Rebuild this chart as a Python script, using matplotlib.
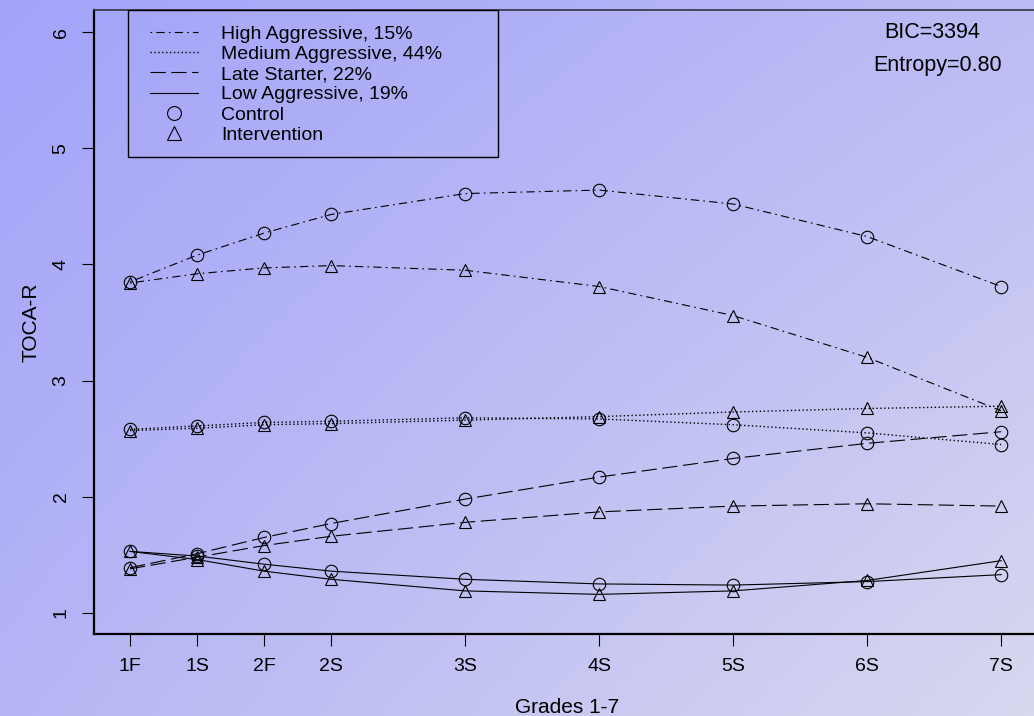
import numpy as np
import matplotlib.pyplot as plt
from matplotlib.lines import Line2D
from matplotlib.patches import Rectangle

plt.rcParams['font.family'] = ['Liberation Sans', 'DejaVu Sans']
plt.rcParams['lines.scale_dashes'] = False

# Grade occasions (fall/spring) and their spacing on the time axis
grades = ["1F", "1S", "2F", "2S", "3S", "4S", "5S", "6S", "7S"]
grade_pos = [0, 0.5, 1, 1.5, 2.5, 3.5, 4.5, 5.5, 6.5]

# Estimated TOCA-R trajectories per class, control vs intervention
high_ctrl = [3.85, 4.08, 4.27, 4.43, 4.61, 4.64, 4.52, 4.24, 3.81]
high_int = [3.84, 3.92, 3.97, 3.99, 3.95, 3.81, 3.56, 3.20, 2.74]
med_ctrl = [2.58, 2.61, 2.64, 2.65, 2.68, 2.67, 2.62, 2.55, 2.45]
med_int = [2.57, 2.59, 2.62, 2.63, 2.66, 2.69, 2.73, 2.76, 2.78]
late_ctrl = [1.39, 1.51, 1.65, 1.77, 1.98, 2.17, 2.33, 2.46, 2.56]
late_int = [1.38, 1.48, 1.58, 1.66, 1.78, 1.87, 1.92, 1.94, 1.92]
low_ctrl = [1.53, 1.49, 1.42, 1.36, 1.29, 1.25, 1.24, 1.27, 1.33]
low_int = [1.53, 1.46, 1.36, 1.29, 1.19, 1.16, 1.19, 1.28, 1.45]

class_labels = ["High Aggressive, 15%", "Medium Aggressive, 44%",
                "Late Starter, 22%", "Low Aggressive, 19%"]
bic_text = "BIC=3394"
entropy_text = "Entropy=0.80"

# R-like line types: dotdash, dotted, longdash, solid
styles = [(0, (1.2, 3.0, 6.0, 3.0)), (0, (1.0, 1.8)), (0, (11.0, 4.0)), "-"]
widths = [0.8, 1.0, 0.8, 0.8]

fig = plt.figure(figsize=(10.34, 7.16), dpi=100)

# diagonal lavender gradient behind everything
bg = fig.add_axes([0, 0, 1, 1], zorder=-1)
tl = np.array([163, 163, 250]) / 255
tr = np.array([188, 188, 245]) / 255
bl = np.array([181, 181, 245]) / 255
br = np.array([216, 216, 240]) / 255
u = np.linspace(0, 1, 200)[None, :, None]
v = np.linspace(0, 1, 200)[:, None, None]
grad = (1 - v) * ((1 - u) * tl + u * tr) + v * ((1 - u) * bl + u * br)
bg.imshow(grad, aspect="auto", extent=[0, 1, 0, 1])
bg.axis("off")

ax = fig.add_axes([94 / 1034, 82 / 716, 946 / 1034, 624 / 716])
ax.set_facecolor("none")

series = [(high_ctrl, high_int), (med_ctrl, med_int),
          (late_ctrl, late_int), (low_ctrl, low_int)]
for (ctrl, inter), ls, lw in zip(series, styles, widths):
    ax.plot(grade_pos, ctrl, color="black", lw=lw, linestyle=ls,
            marker="o", ms=9, mfc="none", mec="black", mew=0.8)
    ax.plot(grade_pos, inter, color="black", lw=lw, linestyle=ls,
            marker="^", ms=9, mfc="none", mec="black", mew=0.8)

ax.set_xlim(-0.269, 6.79)
ax.set_ylim(0.819, 6.19)
ax.set_xticks(grade_pos)
ax.set_xticklabels(grades)
ax.set_yticks([1, 2, 3, 4, 5, 6])
ax.set_yticklabels(["1", "2", "3", "4", "5", "6"], rotation=90, va="center")
ax.tick_params(direction="out", length=8.6, width=0.8, labelsize=14, pad=9)

for side in ["left", "bottom"]:
    ax.spines[side].set_linewidth(1.6)
ax.spines["top"].set_linewidth(1.2)
ax.spines["top"].set_color("#333344")
ax.spines["right"].set_visible(False)

ax.set_xlabel("Grades 1-7", fontsize=15, labelpad=16)
ax.set_ylabel("TOCA-R", fontsize=15, labelpad=9)

handles = [Line2D([], [], color="black", lw=lw, linestyle=ls)
           for ls, lw in zip(styles, widths)]
handles.append(Line2D([], [], ls="none", marker="o", ms=10, mfc="none",
                      mec="black", mew=0.8))
handles.append(Line2D([], [], ls="none", marker="^", ms=10, mfc="none",
                      mec="black", mew=0.8))
ax.legend(handles, class_labels + ["Control", "Intervention"],
          loc="upper left", bbox_to_anchor=(150 / 1034, 1 - 25 / 716),
          bbox_transform=fig.transFigure, fontsize=14,
          frameon=False, borderaxespad=0, borderpad=0,
          handlelength=2.47, handletextpad=1.19, labelspacing=0.135)

# legend box, flush with the top of the plot frame
fig.add_artist(Rectangle((128 / 1034, 1 - 157 / 716), 370 / 1034, 147 / 716,
                         transform=fig.transFigure, fill=False,
                         edgecolor="black", lw=1.0))

fig.text(932 / 1034, 1 - 33 / 716, bic_text, fontsize=15.5,
         ha="center", va="center")
fig.text(938 / 1034, 1 - 66 / 716, entropy_text, fontsize=15.5,
         ha="center", va="center")

fig.savefig("out.png", dpi=100)
